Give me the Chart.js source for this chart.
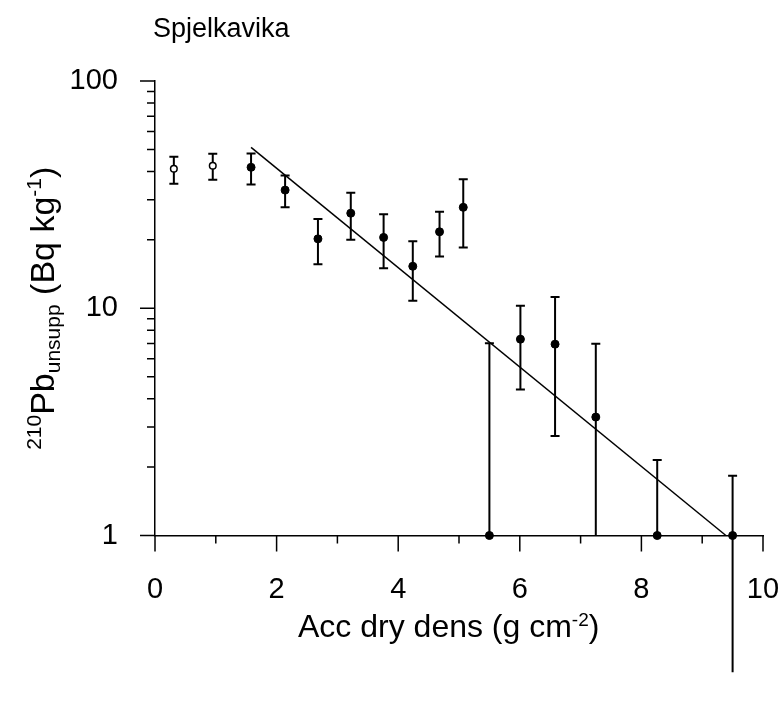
<!DOCTYPE html>
<html>
<head>
<meta charset="utf-8">
<script src="https://cdn.jsdelivr.net/npm/chart.js@4/dist/chart.umd.min.js"></script>
<style>
  html, body { margin: 0; padding: 0; background: #ffffff; }
  #wrap { width: 782px; height: 703px; position: relative; }
</style>
</head>
<body>
<div id="wrap"><canvas id="c" width="782" height="703"></canvas></div>
<script>
// Accumulated dry density (g cm-2) of each slice
const accDryDens = [0.31, 0.95, 1.58, 2.14, 2.68, 3.22, 3.76, 4.24, 4.68, 5.07, 5.50, 6.01, 6.58, 7.25, 8.26, 9.50];
// Unsupported 210Pb activity (Bq kg-1)
const pbUnsupp  = [41.1, 42.4, 41.7, 33.1, 20.2, 26.2, 20.5, 15.3, 21.7, 27.8, 1.0, 7.31, 6.95, 3.32, 1.0, 1.0];
// Upper and lower ends of the error bars
const errHigh   = [46.4, 47.8, 48.0, 38.4, 24.7, 32.2, 25.9, 19.7, 26.6, 37.0, 7.02, 10.25, 11.2, 6.98, 2.15, 1.83];
const errLow    = [35.3, 36.8, 35.0, 27.8, 15.6, 20.0, 15.0, 10.8, 16.9, 18.5, 1.0, 4.39, 2.74, 1.0, 1.0, 0.25];
// Slices left out of the regression (open symbols)
const excludedFromFit = [true, true, false, false, false, false, false, false, false, false, false, false, false, false, false, false];
// Regression line end points
const fitX = [1.58, 9.39];
const fitY = [51.0, 1.0];
// Axis ticks
const xMajorTicks = [0, 2, 4, 6, 8, 10];
const xMinorTicks = [1, 3, 5, 7, 9];
const yMajorTicks = [1, 10, 100];
const yMinorTicks = [2, 3, 4, 5, 6, 7, 8, 9, 20, 30, 40, 50, 60, 70, 80, 90];

const FONT = '"Liberation Sans", Arial, Helvetica, sans-serif';

const openPts = [], filledPts = [];
accDryDens.forEach((x, i) => {
  (excludedFromFit[i] ? openPts : filledPts).push({ x: x, y: pbUnsupp[i] });
});
const fitPts = fitX.map((x, i) => ({ x: x, y: fitY[i] }));

// Draws a sequence of text runs with their own size and vertical shift
function drawRuns(ctx, runs, x, y, align) {
  const widths = runs.map(r => { ctx.font = r.size + 'px ' + FONT; return ctx.measureText(r.text).width; });
  const total = widths.reduce((a, b) => a + b, 0);
  let cx = align === 'center' ? x - total / 2 : x;
  ctx.textBaseline = 'alphabetic';
  ctx.textAlign = 'left';
  runs.forEach((r, i) => {
    ctx.font = r.size + 'px ' + FONT;
    ctx.fillText(r.text, cx, y + (r.dy || 0));
    cx += widths[i];
  });
}

const errorBars = {
  id: 'errorBars',
  beforeDatasetsDraw(chart) {
    const ctx = chart.ctx, xs = chart.scales.x, ys = chart.scales.y;
    ctx.save();
    ctx.strokeStyle = '#000';
    ctx.lineWidth = 2;
    const cap = 4.5;
    accDryDens.forEach((xv, i) => {
      const px = xs.getPixelForValue(xv);
      const top = ys.getPixelForValue(errHigh[i]);
      const bot = ys.getPixelForValue(errLow[i]);
      ctx.beginPath();
      ctx.moveTo(px, top); ctx.lineTo(px, bot);
      ctx.moveTo(px - cap, top); ctx.lineTo(px + cap, top);
      if (errLow[i] > 1) { ctx.moveTo(px - cap, bot); ctx.lineTo(px + cap, bot); }
      ctx.stroke();
    });
    ctx.restore();
  }
};

const axisDecor = {
  id: 'axisDecor',
  afterDraw(chart) {
    const ctx = chart.ctx, xs = chart.scales.x, ys = chart.scales.y;
    const area = chart.chartArea;
    ctx.save();
    ctx.strokeStyle = '#000';
    ctx.lineWidth = 1.5;
    ctx.beginPath();
    yMajorTicks.forEach(v => { const p = ys.getPixelForValue(v); ctx.moveTo(area.left - 15, p); ctx.lineTo(area.left, p); });
    yMinorTicks.forEach(v => { const p = ys.getPixelForValue(v); ctx.moveTo(area.left - 8, p); ctx.lineTo(area.left, p); });
    xMajorTicks.forEach(v => { const p = xs.getPixelForValue(v); ctx.moveTo(p, area.bottom); ctx.lineTo(p, area.bottom + 16); });
    xMinorTicks.forEach(v => { const p = xs.getPixelForValue(v); ctx.moveTo(p, area.bottom); ctx.lineTo(p, area.bottom + 8); });
    ctx.stroke();

    ctx.fillStyle = '#000';
    // Site name
    drawRuns(ctx, [{ text: 'Spjelkavika', size: 27 }], 153, 37, 'left');
    // x-axis title
    drawRuns(ctx, [
      { text: 'Acc dry dens (g cm', size: 32 },
      { text: '-2', size: 19, dy: -11 },
      { text: ')', size: 32 }
    ], 298, 637, 'left');
    // y-axis title, rotated
    ctx.save();
    ctx.translate(54, (area.top + area.bottom) / 2);
    ctx.rotate(-Math.PI / 2);
    drawRuns(ctx, [
      { text: '210', size: 21, dy: -13 },
      { text: 'Pb', size: 34 },
      { text: 'unsupp', size: 21, dy: 6 },
      { text: ' (Bq kg', size: 34 },
      { text: '-1', size: 21, dy: -13 },
      { text: ')', size: 34 }
    ], 0, 0, 'center');
    ctx.restore();
    ctx.restore();
  }
};

new Chart(document.getElementById('c'), {
  type: 'scatter',
  data: {
    datasets: [
      {
        type: 'line', data: fitPts, borderColor: '#000', borderWidth: 1.5,
        pointRadius: 0, fill: false, tension: 0, clip: false, order: 3
      },
      {
        data: openPts, pointStyle: 'circle', pointRadius: 3.3, borderWidth: 1.5,
        borderColor: '#000', backgroundColor: '#fff', clip: false, order: 2
      },
      {
        data: filledPts, pointStyle: 'circle', pointRadius: 4, borderWidth: 1,
        borderColor: '#000', backgroundColor: '#000', clip: false, order: 1
      }
    ]
  },
  options: {
    responsive: false,
    animation: false,
    events: [],
    layout: { padding: { top: 81, right: 19, left: 0, bottom: 0 } },
    plugins: { legend: { display: false }, tooltip: { enabled: false }, title: { display: false } },
    scales: {
      x: {
        type: 'linear', min: 0, max: 10, position: 'bottom',
        afterBuildTicks: s => { s.ticks = xMajorTicks.map(v => ({ value: v })); },
        afterFit: s => { s.height = 703 - 535.5; s.paddingLeft = 0; s.paddingRight = 0; },
        grid: { display: false },
        border: { display: true, color: '#000', width: 1.5 },
        ticks: { padding: 29, color: '#000', font: { family: FONT, size: 29 }, maxRotation: 0, autoSkip: false }
      },
      y: {
        type: 'logarithmic', min: 1, max: 100, position: 'left',
        afterBuildTicks: s => { s.ticks = yMajorTicks.map(v => ({ value: v })); },
        afterFit: s => { s.width = 155; s.paddingTop = 0; s.paddingBottom = 0; },
        grid: { display: false },
        border: { display: true, color: '#000', width: 1.5 },
        ticks: { padding: 29, color: '#000', font: { family: FONT, size: 29 }, callback: v => String(v) }
      }
    }
  },
  plugins: [errorBars, axisDecor]
});
</script>
</body>
</html>
